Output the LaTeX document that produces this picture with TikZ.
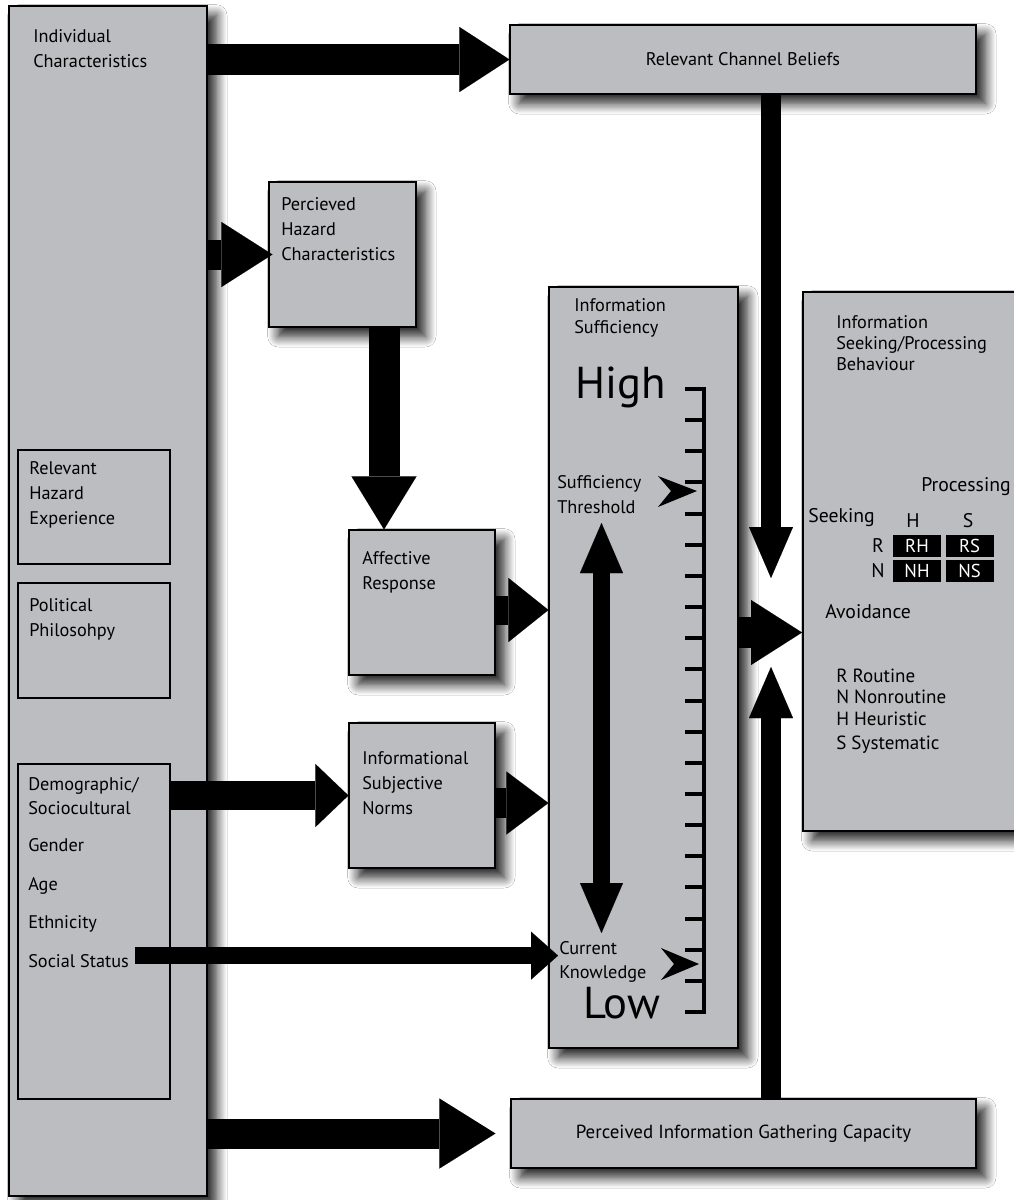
\documentclass[tikz,border=0pt]{standalone}
\usepackage{fontspec}
\setmainfont{PT Sans}
\usetikzlibrary{shadows.blur,arrows.meta,calc,fit}
\definecolor{boxgray}{RGB}{188,189,192}
\begin{document}
\begin{tikzpicture}[x=0.75pt,y=-0.75pt,
  box/.style={draw=black, line width=0.9pt, fill=boxgray, inner sep=0pt,
    blur shadow={shadow xshift=7pt, shadow yshift=-7pt, shadow blur radius=8pt, shadow blur steps=12, shadow opacity=90}},
  inbox/.style={draw=black, line width=0.9pt, inner sep=0pt},
  lbl/.style={anchor=north west, inner sep=0pt, align=left, font=\fontsize{13.7}{18.75}\selectfont},
  lbls/.style={anchor=north west, inner sep=0pt, align=left, font=\fontsize{13.7}{16}\selectfont},
  one/.style={anchor=base west, inner sep=0pt, font=\fontsize{13.7}{16}\selectfont},
  leg/.style={anchor=base west, inner sep=0pt, font=\fontsize{14.3}{16}\selectfont},
  big/.style={anchor=base west, inner sep=0pt, font=\fontsize{33.5}{36}\selectfont},
  mid/.style={inner sep=0pt, font=\fontsize{14.8}{16}\selectfont},
  cell/.style={fill=black, text=white, inner sep=0pt, minimum width=36pt, minimum height=16.5pt, font=\fontsize{14}{16}\selectfont},
  blk/.style n args={3}{line width=#1, -{Triangle[length=#2, width=#3, line width=0.01pt]}},
  dblk/.style n args={3}{line width=#1, {Triangle[length=#2, width=#3, line width=0.01pt]}-{Triangle[length=#2, width=#3, line width=0.01pt]}},
  tick/.style={line width=3pt}
]
\clip (0,0) rectangle (1014,1200);
\fill[white] (0,0) rectangle (1014,1200);

% boxes
\node[box, fit={(9,6) (207,1196)}] (ind) {};
\node[inbox, fit={(18,450) (170,564)}] (rhe) {};
\node[inbox, fit={(18,583) (170,698)}] (pol) {};
\node[inbox, fit={(18,764) (170,1099)}] (dem) {};
\node[box, fit={(510,25) (976,94)}] (rcb) {};
\node[box, fit={(269,182) (416,327)}] (phc) {};
\node[box, fit={(349,530) (495,675)}] (aff) {};
\node[box, fit={(349,723) (495,868)}] (isn) {};
\node[box, fit={(549,287) (738,1048)}] (suf) {};
\node[box, fit={(803,292) (1040,831)}] (seek) {};
\node[box, fit={(511,1099) (976,1168)}] (pigc) {};

% texts
\node[lbl] (tind) at (33,29) {Individual\\Characteristics};
\node[inner sep=0pt, font=\fontsize{13.7}{16}\selectfont] (trcb) at (rcb.center) {Relevant Channel Beliefs};
\node[lbl] (tphc) at (281,197) {Percieved\\Hazard\\Characteristics};
\node[lbls, font=\fontsize{13.7}{16.5}\selectfont] (tsuf) at (574,298) {Information\\Sufficiency};
\node[lbls, font=\fontsize{13.7}{15.75}\selectfont] (tseek) at (836,315) {Information\\Seeking/Processing\\Behaviour};
\node[lbl] (trhe) at (29,461) {Relevant\\Hazard\\Experience};
\node[lbl] (tpol) at (29,598) {Political\\Philosohpy};
\node[lbl] (taff) at (362,551) {Affective\\Response};
\node[lbl] (tisn) at (362,751) {Informational\\Subjective\\Norms};
\node[lbl, font=\fontsize{13.7}{18}\selectfont] (tdem) at (28,777) {Demographic/\\Sociocultural};
\node[one] (tgen) at (28,851) {Gender};
\node[one] (tage) at (28,890) {Age};
\node[one] (teth) at (28,928) {Ethnicity};
\node[one] (tss) at (28,967) {Social Status};
\node[lbl] (tthr) at (557,475) {Sufficiency\\Threshold};
\node[lbl, font=\fontsize{13.7}{18}\selectfont] (tcur) at (559,941) {Current\\Knowledge};
\node[big] (thigh) at (575,398) {High};
\node[big] (tlow) at (583,1018) {Low};
\node[inner sep=0pt, font=\fontsize{14.2}{16}\selectfont] (tpigc) at (pigc.center) {Perceived Information Gathering Capacity};

% seeking / processing grid
\node[mid, anchor=base west] (tproc) at (921,491) {Processing};
\node[mid, anchor=base west] (tseekg) at (808,522) {Seeking};
\node[mid] (gh) at (913,521) {H};
\node[mid] (gs) at (968,521) {S};
\node[mid] (gr) at (878,546) {R};
\node[mid] (gn) at (878,571) {N};
\node[cell] (rh) at (917,545.5) {RH};
\node[cell] (rs) at (969.5,545.5) {RS};
\node[cell] (nh) at (917,570.5) {NH};
\node[cell] (ns) at (969.5,570.5) {NS};
\node[mid, anchor=base west] (tavo) at (825,618) {Avoidance};
\node[leg] (lr) at (836,682) {R Routine};
\node[leg] (ln) at (836,703) {N Nonroutine};
\node[leg] (lh) at (836,725) {H Heuristic};
\node[leg] (ls) at (836,749) {S Systematic};

% ruler
\draw[line width=3pt] (704,389) -- (704,1012);
\foreach \i in {0,...,20} {
  \draw[tick] (685,{389+\i*31.15}) -- (705.5,{389+\i*31.15});
}
% pointers
\fill (658,476) -- (697,491) -- (658,507) -- (671,491) -- cycle;
\fill (661,948) -- (699,964) -- (661,980) -- (674,964) -- cycle;

% block arrows
\draw[blk={23.25pt}{37.5pt}{48.75pt}] (ind.east |- rcb.west) -- (rcb.west);
\coordinate (a2e) at ($(phc.west)+(4,0)$);
\draw[blk={22.5pt}{38.25pt}{48.75pt}] (ind.east |- a2e) -- (a2e);
\coordinate (a3s) at ($(phc.south)+(41.5,0)$);
\draw[blk={23.25pt}{39.75pt}{48.75pt}] (a3s) -- (a3s |- aff.north);
\coordinate (a4s) at ($(aff.east)+(0,7.5)$);
\draw[blk={21.75pt}{30pt}{48pt}] (a4s) -- (a4s -| suf.west);
\coordinate (a5s) at ($(isn.east)+(0,7.5)$);
\draw[blk={22.5pt}{31.5pt}{47.25pt}] (a5s) -- (a5s -| suf.west);
\draw[blk={21.75pt}{24.75pt}{47.25pt}] (dem.east |- isn.west) -- (isn.west);
\coordinate (a7s) at ($(tss.east)+(6,-5)$);
\coordinate (a7e) at ($(a7s -| tcur.west)+(-1,0)$);
\draw[blk={12.75pt}{20.25pt}{36pt}] (a7s) -- (a7e);
\coordinate (a8e) at ($(pigc.west)+(-15,0)$);
\draw[blk={22.5pt}{42pt}{52.5pt}] (ind.east |- a8e) -- (a8e);
\coordinate (a9s) at ($(rcb.south)+(28,0)$);
\coordinate (m9) at (771,578);
\draw[blk={15pt}{38.25pt}{33pt}] (a9s) -- (m9);
\coordinate (a10s) at (suf.east |- 0,632.5);
\coordinate (a10e) at (802,632.5);
\draw[blk={23.25pt}{38.25pt}{48.75pt}] (a10s) -- (a10e);
\coordinate (m11) at (771,667);
\draw[blk={15pt}{38.25pt}{33pt}] (m11 |- pigc.north) -- (m11);
% double arrow
\coordinate (d1) at (601.5,523);
\coordinate (d2) at (601.5,933);
\draw[dblk={12.75pt}{37.5pt}{32.25pt}] (d1) -- (d2);
\end{tikzpicture}
\end{document}
